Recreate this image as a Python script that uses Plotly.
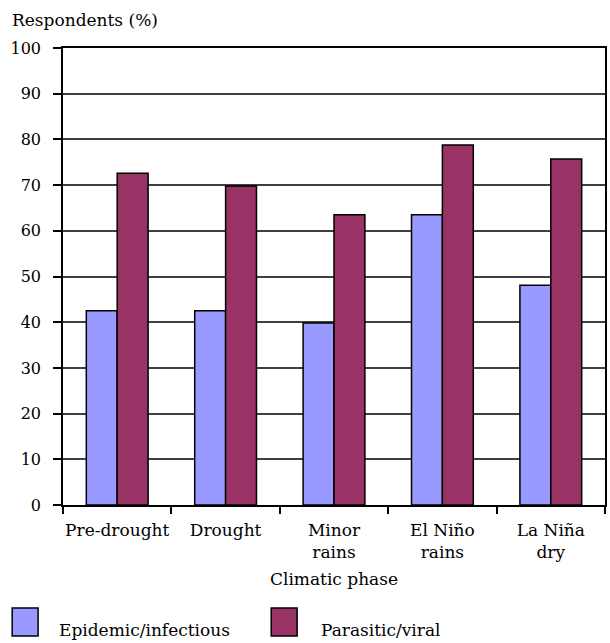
import plotly.graph_objects as go

categories = ["Pre-drought", "Drought", "Minor<br>rains", "El Niño<br>rains", "La Niña<br>dry"]
epidemic = [42.5, 42.5, 39.8, 63.5, 48.1]
parasitic = [72.6, 69.8, 63.5, 78.8, 75.7]
series_names = ["Epidemic/infectious", "Parasitic/viral"]
colors = ["#9999FF", "#993366"]
yticks = list(range(0, 101, 10))

FONT = "DejaVu Serif"

fig = go.Figure()
for name, vals, col in zip(series_names, [epidemic, parasitic], colors):
    fig.add_trace(go.Bar(
        x=categories, y=vals, name=name,
        marker=dict(color=col, line=dict(color="#000000", width=1.5)),
        showlegend=False,
    ))

fig.update_layout(
    width=610, height=643,
    margin=dict(l=63, r=3, t=48, b=138),
    paper_bgcolor="white", plot_bgcolor="white",
    barmode="group", bargap=0.43, bargroupgap=0,
    font=dict(family=FONT, size=17, color="#000000"),
)
fig.update_xaxes(
    showline=True, linecolor="#000000", linewidth=1.5, mirror=True,
    ticks="outside", tickson="boundaries", ticklen=7, tickcolor="#000000", tickwidth=1.5,
    showgrid=False, tickfont=dict(family=FONT, size=17), tickangle=0,
    ticklabelstandoff=9,
    title=dict(text="Climatic phase", font=dict(family=FONT, size=17), standoff=12),
)
fig.update_yaxes(
    range=[0, 100], tickvals=yticks,
    showline=True, linecolor="#000000", linewidth=1.5, mirror=True,
    ticks="outside", ticklen=8, tickcolor="#000000", tickwidth=1.5,
    showgrid=True, gridcolor="#404040", gridwidth=1.5,
    tickfont=dict(family=FONT, size=16),
    ticklabelstandoff=9,
)
fig.add_annotation(
    text="Respondents (%)", xref="paper", yref="paper",
    x=(10 - 63) / 544, y=(505 - 20) / 457, xanchor="left", yanchor="middle",
    showarrow=False, font=dict(family=FONT, size=17),
)

# custom legend with large swatches
legend_x = [12, 272]
text_x = [57, 320]
for name, col, sx, tx in zip(series_names, colors, legend_x, text_x):
    fig.add_shape(type="rect", xref="paper", yref="paper",
                  x0=(sx - 63) / 544, x1=(sx + 26 - 63) / 544,
                  y0=(505 - 636) / 457, y1=(505 - 608) / 457,
                  fillcolor=col, line=dict(color="#000000", width=1.5))
    fig.add_annotation(text=name, xref="paper", yref="paper",
                       x=(tx - 63) / 544, y=(505 - 630) / 457,
                       xanchor="left", yanchor="middle", showarrow=False,
                       font=dict(family=FONT, size=17))

fig.write_html("out.html")
